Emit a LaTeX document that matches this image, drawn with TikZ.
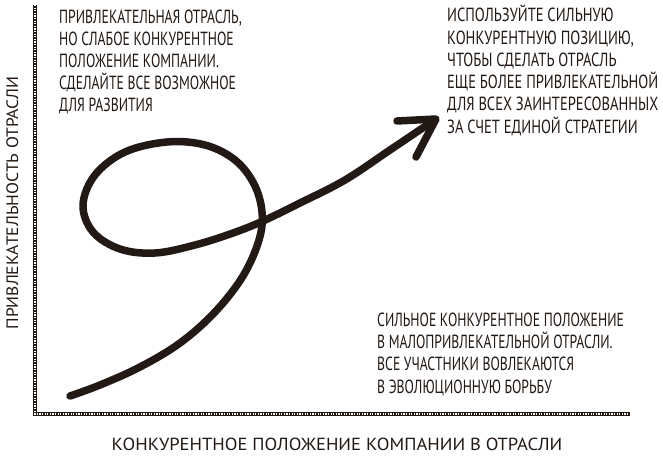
\documentclass[tikz,border=0pt]{standalone}
\usepackage{fontspec}
\setmainfont{PT Sans}
\newfontfamily\handfont[FakeStretch=0.72]{PT Sans}
\newfontfamily\handwide[FakeStretch=0.765]{PT Sans}
\newfontfamily\labfont[FakeStretch=1.06]{PT Sans}
\usetikzlibrary{arrows.meta}
\definecolor{ink}{RGB}{35,25,20}
\begin{document}
\begin{tikzpicture}[x=1pt,y=-1pt,
  noteline/.style={anchor=base west,inner sep=0pt,text=ink,
    font=\handfont\fontsize{19}{22}\selectfont},
  notewide/.style={noteline,font=\handwide\fontsize{19}{22}\selectfont},
  axlabel/.style={inner sep=0pt,text=ink,anchor=base,
    font=\labfont\fontsize{16.5}{18}\selectfont},
  axisline/.style={draw=ink,line width=4.5pt},
  axishatch/.style={draw=white,line width=2pt,dash pattern=on 1.2pt off 1.4pt},
  bigline/.style={draw=ink,line width=7.5pt,line cap=round,line join=round}]
\useasboundingbox[fill=white] (0,0) rectangle (663,457);
% axes
\coordinate (ytop) at (35,5);
\coordinate (O) at (35,414);
\coordinate (xend) at (630,414);
\draw[axisline] (ytop) -- (O) -- (xend);
\draw[axishatch] (ytop) -- (O) -- (xend);
% axis labels
\node[axlabel,rotate=90] (ylab) at (18,203) {ПРИВЛЕКАТЕЛЬНОСТЬ ОТРАСЛИ};
\node[axlabel,font=\labfont\fontsize{17.5}{20}\selectfont] (xlab) at (337,450) {КОНКУРЕНТНОЕ ПОЛОЖЕНИЕ КОМПАНИИ В ОТРАСЛИ};
% top-left note
\node[noteline] (tl1) at (59,23.3) {ПРИВЛЕКАТЕЛЬНАЯ ОТРАСЛЬ,};
\node[noteline] (tl2) at (59,45.4) {НО СЛАБОЕ КОНКУРЕНТНОЕ};
\node[noteline] (tl3) at (59,67.5) {ПОЛОЖЕНИЕ КОМПАНИИ.};
\node[noteline] (tl4) at (59,89.6) {СДЕЛАЙТЕ ВСЕ ВОЗМОЖНОЕ};
\node[noteline] (tl5) at (59,111.7) {ДЛЯ РАЗВИТИЯ};
% top-right note
\node[notewide] (tr1) at (447,21.8) {ИСПОЛЬЗУЙТЕ СИЛЬНУЮ};
\node[notewide] (tr2) at (447,44.1) {КОНКУРЕНТНУЮ ПОЗИЦИЮ,};
\node[notewide] (tr3) at (447,66.4) {ЧТОБЫ СДЕЛАТЬ ОТРАСЛЬ};
\node[notewide] (tr4) at (447,88.7) {ЕЩЕ БОЛЕЕ ПРИВЛЕКАТЕЛЬНОЙ};
\node[notewide] (tr5) at (447,111) {ДЛЯ ВСЕХ ЗАИНТЕРЕСОВАННЫХ};
\node[notewide] (tr6) at (447,133.3) {ЗА СЧЕТ ЕДИНОЙ СТРАТЕГИИ};
% bottom-right note
\node[noteline] (br1) at (377,326) {СИЛЬНОЕ КОНКУРЕНТНОЕ ПОЛОЖЕНИЕ};
\node[noteline] (br2) at (377,348.4) {В МАЛОПРИВЛЕКАТЕЛЬНОЙ ОТРАСЛИ.};
\node[noteline] (br3) at (377,370.9) {ВСЕ УЧАСТНИКИ ВОВЛЕКАЮТСЯ};
\node[noteline] (br4) at (377,393.3) {В ЭВОЛЮЦИОННУЮ БОРЬБУ};
% curve
\coordinate (tip) at (436,119);
\coordinate (wingA) at (397,121);
\coordinate (wingB) at (416,157);
\draw[bigline] plot[smooth,tension=0.6] coordinates {
  (70,396) (100,385) (140,367) (180,343) (215,312) (243,276) (259,240)
  (262,212) (254,184) (235,160) (205,145) (167,142) (125,152) (95,175)
  (83,205) (93,232) (120,249) (155,253) (195,245) (233,233) (263,221)
  (300,203) (345,180) (390,150) (433,121)};
\draw[bigline] (wingA) -- (tip) -- (wingB);
\end{tikzpicture}
\end{document}
